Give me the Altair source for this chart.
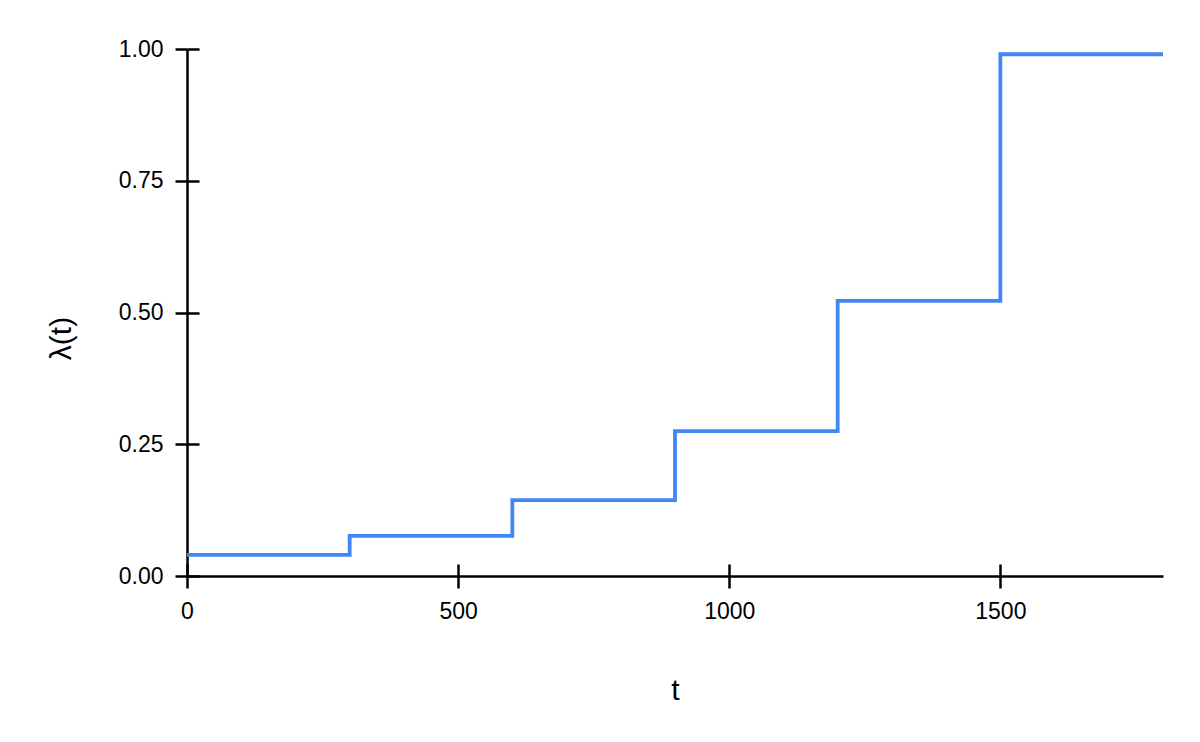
import altair as alt
import pandas as pd

t_values = [0, 300, 600, 900, 1200, 1500, 1800]
lam_values = [0.040, 0.076, 0.144, 0.275, 0.522, 0.990, 0.990]
x_ticks = [0, 500, 1000, 1500]
y_ticks = [0.0, 0.25, 0.5, 0.75, 1.0]

df = pd.DataFrame({"t": t_values, "lam": lam_values})

FONT = "Liberation Sans"
xscale = alt.Scale(domain=[0, 1800], nice=False, zero=False)
yscale = alt.Scale(domain=[0, 1], nice=False)

base = alt.Chart(df)

line = base.mark_line(interpolate="step-after", color="#4285F4", strokeWidth=3.8).encode(
    x=alt.X("t:Q", scale=xscale,
            axis=alt.Axis(title="t", values=x_ticks, format="d", tickSize=12,
                          labelFlush=False, labelPadding=12, titlePadding=52, grid=False)),
    y=alt.Y("lam:Q", scale=yscale,
            axis=alt.Axis(title="λ(t)", values=y_ticks, format=".2f", tickSize=12,
                          labelPadding=12, titlePadding=42, titleY=289, grid=False)),
)

inner = base.mark_point(opacity=0).encode(
    x=alt.X("t:Q", scale=xscale,
            axis=alt.Axis(orient="bottom", offset=-12, values=x_ticks, tickSize=12,
                          labels=False, domain=False, title=None, grid=False)),
    y=alt.Y("lam:Q", scale=yscale,
            axis=alt.Axis(orient="left", offset=-12, values=y_ticks, tickSize=12,
                          labels=False, domain=False, title=None, grid=False)),
)

chart = alt.layer(line, inner).resolve_axis(x="independent", y="independent").properties(
    width=976, height=527,
    autosize=alt.AutoSizeParams(type="none"),
    padding={"left": 179, "top": 41, "right": 29, "bottom": 150},
).configure_axis(
    domainColor="black", tickColor="black", domainWidth=2.5, tickWidth=2.5,
    labelFont=FONT, titleFont=FONT, labelFontSize=23, titleFontSize=30,
    labelColor="black", titleColor="black", titleFontWeight="normal",
).configure_view(stroke=None)

chart.save("out.html", embed_options={"renderer": "svg", "actions": False})
